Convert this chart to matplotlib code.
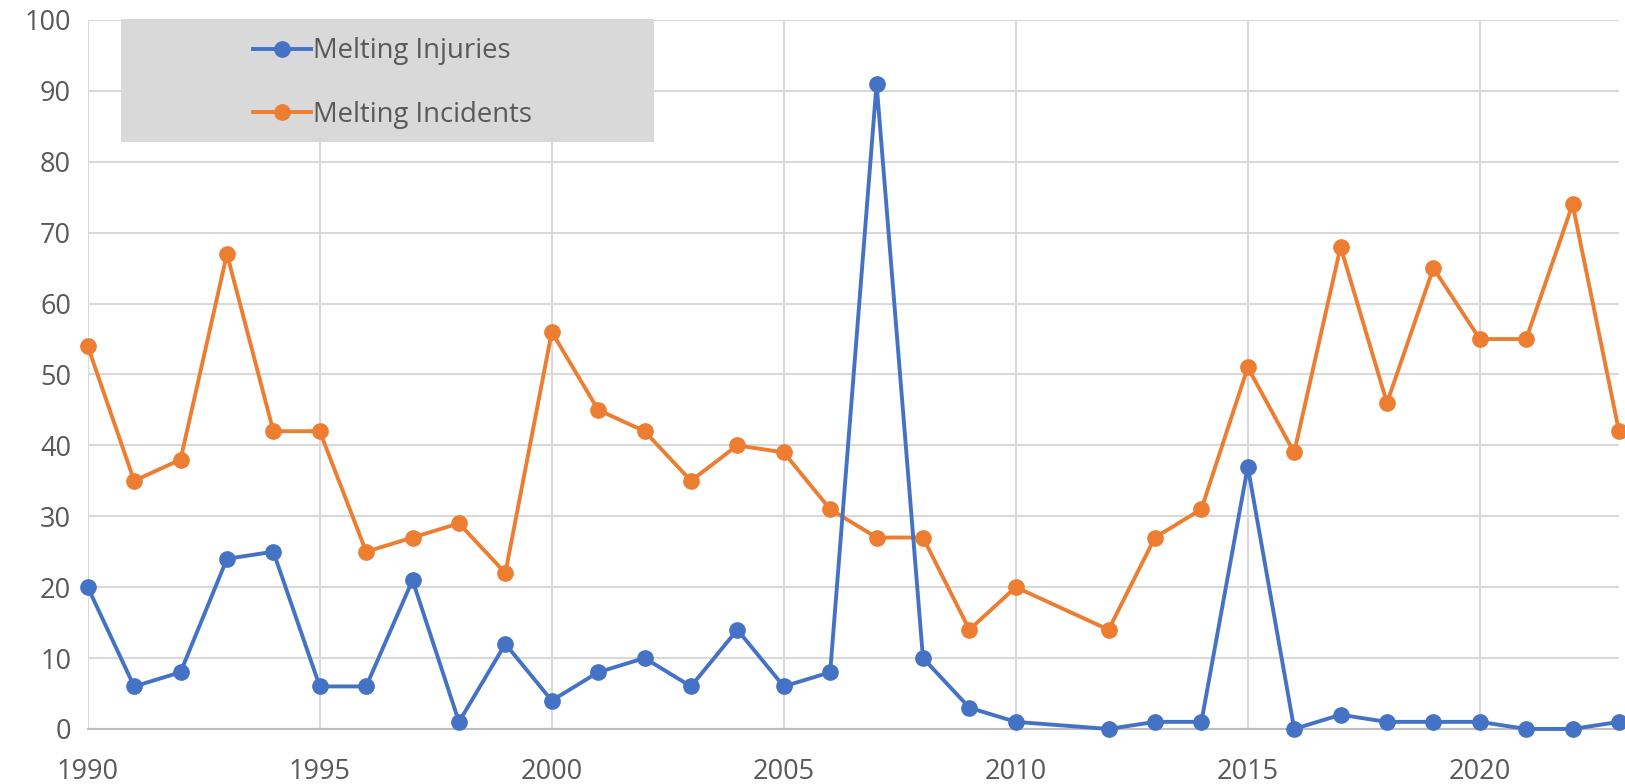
import matplotlib.pyplot as plt
import matplotlib.patches as mpatches

# data (no 2011 entry)
years = [1990, 1991, 1992, 1993, 1994, 1995, 1996, 1997, 1998, 1999,
         2000, 2001, 2002, 2003, 2004, 2005, 2006, 2007, 2008, 2009,
         2010, 2012, 2013, 2014, 2015, 2016, 2017, 2018, 2019, 2020,
         2021, 2022, 2023]
injuries = [20, 6, 8, 24, 25, 6, 6, 21, 1, 12,
            4, 8, 10, 6, 14, 6, 8, 91, 10, 3,
            1, 0, 1, 1, 37, 0, 2, 1, 1, 1,
            0, 0, 1]
incidents = [54, 35, 38, 67, 42, 42, 25, 27, 29, 22,
             56, 45, 42, 35, 40, 39, 31, 27, 27, 14,
             20, 14, 27, 31, 51, 39, 68, 46, 65, 55,
             55, 74, 42]
xticks = [1990, 1995, 2000, 2005, 2010, 2015, 2020]
yticks = list(range(0, 101, 10))

plt.rcParams['font.family'] = ['Open Sans', 'DejaVu Sans']

fig = plt.figure(figsize=(16.25, 7.84), dpi=100)
ax = fig.add_axes([0.054, 0.0702, 0.9423, 0.9043])

blue = '#4472C4'
orange = '#ED7D31'
ax.plot(years, injuries, color=blue, lw=2.8, marker='o', ms=11,
        label='Melting Injuries', clip_on=False, zorder=5)
ax.plot(years, incidents, color=orange, lw=2.8, marker='o', ms=11,
        label='Melting Incidents', clip_on=False, zorder=4)

ax.set_xlim(1990, 2023)
ax.set_ylim(0, 100)
ax.set_xticks(xticks)
ax.set_yticks(yticks)
ax.grid(True, color='#D9D9D9', lw=1.5)
ax.set_axisbelow(True)
for s in ['top', 'right', 'left']:
    ax.spines[s].set_visible(False)
ax.spines['bottom'].set_color('#BFBFBF')
ax.spines['bottom'].set_linewidth(1.5)
ax.tick_params(length=0, labelsize=19.5, labelcolor='#595959')
ax.tick_params(axis='x', pad=21)
ax.tick_params(axis='y', pad=12)

# grey legend box
bg = mpatches.Rectangle((0.0216, 0.828), 0.348, 0.173, transform=ax.transAxes,
                        facecolor='#D9D9D9', edgecolor='none', zorder=3,
                        clip_on=False)
ax.add_patch(bg)
leg = ax.legend(loc='center', bbox_to_anchor=(0.199, 0.911), frameon=False,
                fontsize=19.8, labelcolor='#595959', handlelength=2.1,
                handletextpad=0.05, labelspacing=1.3)
leg.set_zorder(6)

plt.savefig('out.png', dpi=100)
